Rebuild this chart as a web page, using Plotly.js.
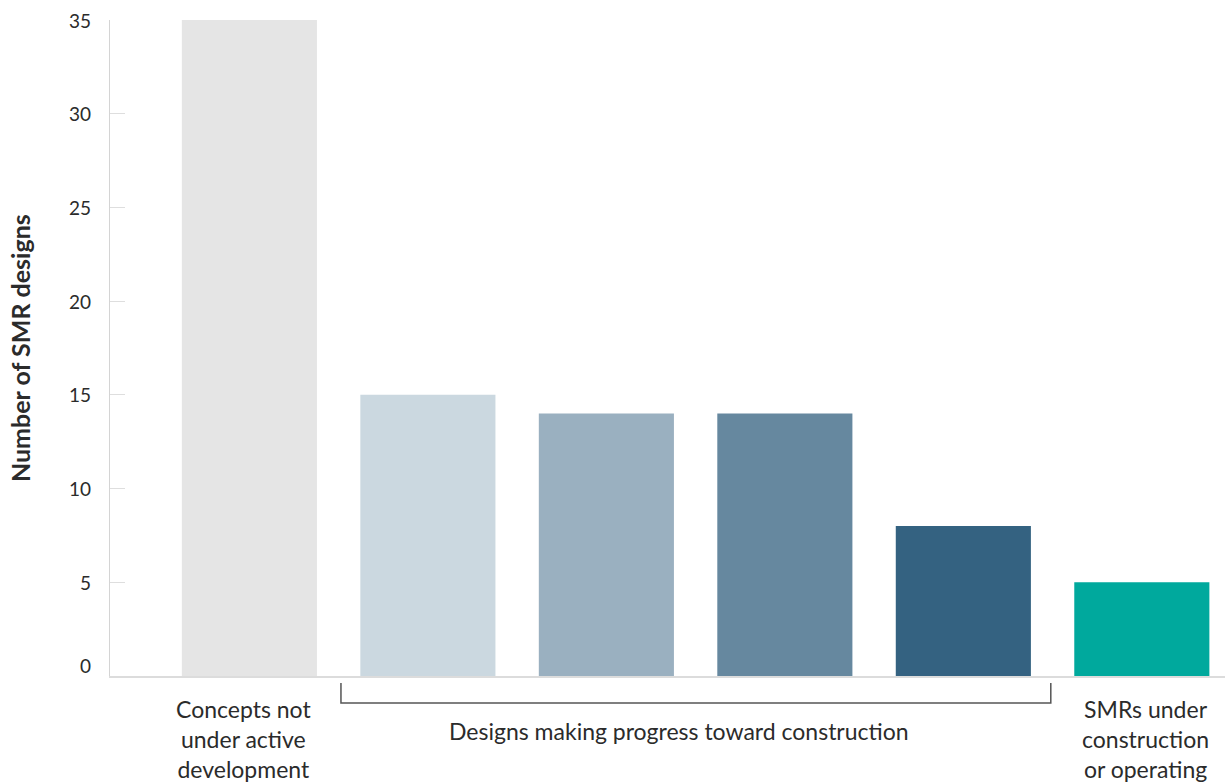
<!DOCTYPE html>
<html>
<head>
<meta charset="utf-8">
<script src="https://cdn.plot.ly/plotly-3.0.1.min.js"></script>
<style>
  html, body { margin: 0; padding: 0; background: #ffffff; }
  #chart { width: 1225px; height: 782px; }
</style>
</head>
<body>
<div id="chart"></div>
<script>
// ---- Data ----
const barCategories = ["Concepts not under active development", "Progress stage 1", "Progress stage 2", "Progress stage 3", "Progress stage 4", "SMRs under construction or operating"];
const barValues = [35, 15, 14, 14, 8, 5];
const barColors = ["#e5e5e5", "#cbd8e0", "#9ab0c0", "#66889f", "#346281", "#00a99d"];

const groupLabels = ["Concepts not<br>under active<br>development", "Designs making progress toward construction", "SMRs under<br>construction<br>or operating"];
const groupStart = [0, 1, 5];
const groupEnd = [0, 4, 5];

const yTickValues = [0, 5, 10, 15, 20, 25, 30, 35];
const yTickLabels = ["0", "5", "10", "15", "20", "25", "30", "35"];
const yTitle = "Number of SMR designs";

// ---- Layout helpers ----
const FONT = "Lato, 'Open Sans', sans-serif";
const textColor = "#2b2b2b";
const groupXShift = [-6, -17, 4];
const groupYTop = [-0.026, -0.060, -0.026];

const annotations = [];
yTickValues.forEach((v, i) => {
  annotations.push({
    xref: "paper", yref: "y", x: 0, y: v,
    xanchor: "right", yanchor: "middle", xshift: -17,
    yshift: v === 0 ? 11 : 0,
    text: yTickLabels[i], showarrow: false,
    font: { family: FONT, size: 19, color: textColor }
  });
});
groupLabels.forEach((t, i) => {
  annotations.push({
    xref: "x", yref: "paper",
    x: (groupStart[i] + groupEnd[i]) / 2, y: groupYTop[i],
    xanchor: "center", yanchor: "top", xshift: groupXShift[i],
    text: t, showarrow: false, align: "center",
    font: { family: FONT, size: 23, color: textColor }
  });
});
annotations.push({
  xref: "paper", yref: "paper", x: -0.0807, y: 0.5,
  xanchor: "center", yanchor: "middle", textangle: -90,
  text: "<b>" + yTitle + "</b>", showarrow: false,
  font: { family: FONT, size: 25, color: textColor }
});

// bracket under the middle group
const bStart = groupStart[1] - 0.487;
const bEnd = groupEnd[1] + 0.49;
const shapes = [{
  type: "path", xref: "x", yref: "paper",
  path: `M ${bStart},-0.0107 L ${bStart},-0.0412 L ${bEnd},-0.0412 L ${bEnd},-0.0107`,
  line: { color: "#555555", width: 1.5 }
}];

const trace = {
  type: "bar",
  x: barCategories,
  y: barValues,
  marker: { color: barColors, line: { width: 0 } },
  width: 0.757,
  hoverinfo: "x+y"
};

const layout = {
  width: 1225, height: 782,
  margin: { l: 110, r: 0, t: 20, b: 106, pad: 0 },
  paper_bgcolor: "#ffffff", plot_bgcolor: "#ffffff",
  showlegend: false,
  xaxis: {
    type: "category",
    range: [-0.781, 5.466],
    showticklabels: false, ticks: "",
    showgrid: false, zeroline: false,
    showline: true, linecolor: "#dcdcdc", linewidth: 1.5
  },
  yaxis: {
    range: [0, 35],
    tickvals: yTickValues,
    showticklabels: false,
    ticks: "inside", ticklen: 15, tickcolor: "#dedede", tickwidth: 1,
    showgrid: false, zeroline: false,
    showline: true, linecolor: "#d4d4d4", linewidth: 1
  },
  annotations: annotations,
  shapes: shapes
};

Plotly.newPlot("chart", [trace], layout, { staticPlot: true, displayModeBar: false });
</script>
</body>
</html>
